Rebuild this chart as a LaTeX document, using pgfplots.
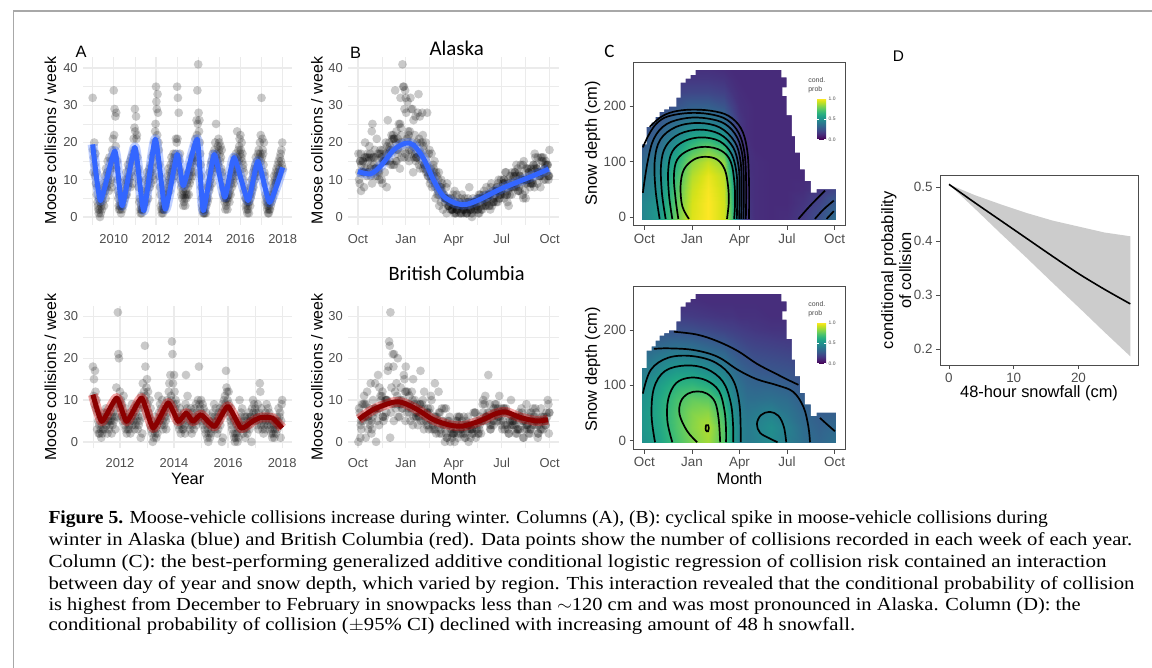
\documentclass[border=0pt]{standalone}
\usepackage{fontspec}
\setmainfont{Liberation Sans}
\newfontfamily\capserif{Liberation Serif}
\newfontfamily\calib{Carlito}
\usepackage{graphicx}
\usepackage{pgfplots}
\pgfplotsset{compat=1.18}
\usepackage{pgfplotstable}

\definecolor{g92}{HTML}{EBEBEB}
\definecolor{g30}{HTML}{4D4D4D}
\definecolor{ggblue}{HTML}{3366FF}
\definecolor{ggred}{HTML}{8B0000}
\definecolor{framegray}{HTML}{A8A8A8}
\definecolor{bandgray}{HTML}{CCCCCC}

\pgfplotsset{
  mini/.style={scale only axis, anchor=south west, axis line style={draw=none}, clip marker paths=true,
    major tick length=0pt, minor tick length=0pt, grid=both,
    major grid style={draw=g92, line width=1.3pt}, minor grid style={draw=g92, line width=0.65pt},
    tick label style={font=\fontsize{13}{13}\selectfont, text=g30},
    xticklabel style={yshift=-6pt, text height=9.5pt, text depth=2.5pt}, yticklabel style={xshift=-2pt}},
  pts/.style={only marks, mark=*, mark size=4.4pt,
    mark options={line width=0pt, draw opacity=0, fill=black, fill opacity=0.21}},
  boxax/.style={scale only axis, anchor=south west, axis line style={draw=black!70, line width=0.9pt},
    tick style={draw=black!70, line width=0.9pt}, tick align=outside, major tick length=4pt, tick pos=left,
    tick label style={font=\fontsize{13.5}{13.5}\selectfont, text=g30},
    xticklabel style={text height=9.7pt, text depth=2.6pt}},
  ctr/.style={black, line width=1.7pt, smooth, tension=0.6},
  heatax/.style={boxax, width=213pt, height=164pt, xmin=-0.69, xmax=12.69, ymin=-15.6, ymax=278.7,
    xtick={0,3,6,9,12}, xticklabels={Oct,Jan,Apr,Jul,Oct}, ytick={0,100,200}, yticklabels={0,100,200},
    colormap/viridis, point meta min=0, point meta max=1,
    colorbar, colorbar style={at={(parent axis.north west)}, anchor=north west, xshift=176pt, yshift=-36pt,
      width=9pt, height=41pt, ytick={0,0.5,1}, yticklabels={0.0,0.5,1.0}, yticklabel pos=right,
      yticklabel style={font=\fontsize{5}{5}\selectfont, text=g30, xshift=-1pt},
      axis line style={draw=none}, tick style={draw=white, line width=0.5pt}, tick align=inside, major tick length=2pt}},
}

% weekly moose collisions, Alaska, from week 1 of 2009
\pgfplotstableread[row sep=\\]{
n\\
32\\18\\12\\16\\20\\14\\11\\17\\9\\12\\6\\8\\4\\3\\2\\1\\5\\2\\0\\4\\1\\3\\5\\2\\7\\4\\6\\9\\3\\8\\11\\7\\5\\13\\9\\8\\12\\15\\10\\11\\7\\16\\12\\9\\13\\10\\15\\8\\18\\14\\21\\16\\
34\\22\\29\\16\\27\\19\\28\\13\\15\\10\\7\\5\\3\\2\\6\\3\\2\\4\\1\\3\\5\\2\\3\\6\\4\\8\\7\\5\\10\\6\\9\\12\\6\\10\\8\\14\\9\\11\\13\\10\\15\\8\\12\\16\\11\\14\\9\\17\\15\\21\\18\\24\\
29\\23\\17\\27\\21\\22\\16\\12\\13\\8\\10\\4\\5\\2\\1\\3\\2\\1\\2\\4\\2\\3\\5\\3\\7\\4\\6\\10\\4\\8\\12\\7\\9\\5\\11\\10\\13\\8\\12\\14\\9\\12\\16\\11\\13\\17\\10\\15\\20\\18\\23\\25\\
35\\31\\29\\22\\33\\28\\20\\18\\14\\11\\8\\6\\3\\2\\1\\4\\2\\1\\3\\2\\5\\2\\4\\6\\3\\7\\5\\9\\6\\11\\8\\13\\10\\7\\12\\9\\14\\11\\16\\12\\10\\15\\13\\17\\14\\11\\16\\12\\17\\21\\15\\20\\
35\\21\\32\\16\\28\\15\\13\\17\\10\\12\\8\\6\\9\\5\\7\\3\\6\\4\\8\\5\\3\\6\\7\\5\\9\\6\\10\\8\\12\\6\\11\\9\\14\\10\\13\\12\\16\\11\\15\\14\\17\\12\\16\\19\\16\\21\\18\\15\\26\\22\\34\\25\\
41\\28\\23\\26\\20\\17\\14\\11\\8\\5\\3\\2\\1\\2\\1\\3\\1\\2\\4\\1\\3\\5\\6\\4\\8\\5\\9\\7\\12\\8\\10\\14\\11\\15\\9\\13\\17\\12\\16\\15\\18\\14\\20\\16\\25\\13\\17\\15\\19\\14\\21\\18\\
20\\17\\15\\19\\16\\13\\18\\12\\11\\8\\6\\9\\5\\4\\6\\2\\5\\3\\5\\4\\2\\6\\5\\8\\6\\4\\7\\10\\6\\9\\12\\8\\11\\14\\10\\9\\13\\16\\12\\14\\11\\17\\13\\15\\23\\16\\12\\18\\15\\19\\21\\17\\
22\\18\\16\\20\\15\\17\\13\\14\\10\\12\\7\\8\\5\\3\\5\\2\\4\\1\\3\\2\\4\\1\\4\\6\\3\\5\\8\\6\\10\\7\\9\\12\\8\\11\\13\\10\\14\\12\\16\\13\\11\\15\\12\\17\\14\\18\\13\\16\\20\\17\\22\\15\\
32\\16\\21\\18\\17\\14\\20\\12\\9\\11\\6\\4\\5\\3\\2\\4\\1\\3\\1\\2\\4\\2\\5\\3\\6\\4\\7\\5\\9\\6\\8\\11\\7\\10\\9\\12\\9\\13\\11\\10\\14\\12\\15\\11\\13\\16\\12\\17\\15\\18\\14\\20\\
13\\
}\akdata

% weekly moose collisions, British Columbia, from week 1 of 2011
\pgfplotstableread[row sep=\\]{
n\\
18\\11\\15\\9\\17\\12\\8\\10\\3\\7\\5\\2\\4\\2\\6\\3\\1\\4\\2\\5\\3\\7\\6\\3\\5\\8\\4\\7\\2\\5\\6\\3\\5\\4\\7\\5\\2\\6\\4\\7\\5\\9\\6\\3\\8\\13\\6\\10\\31\\21\\20\\9\\
12\\8\\10\\6\\9\\5\\7\\11\\6\\4\\8\\3\\5\\2\\5\\3\\6\\4\\3\\7\\2\\5\\6\\9\\4\\7\\5\\8\\3\\6\\4\\7\\5\\9\\3\\6\\4\\8\\5\\9\\1\\11\\6\\2\\14\\8\\12\\10\\23\\18\\11\\13\\
15\\9\\12\\7\\6\\10\\4\\8\\3\\5\\2\\0\\4\\1\\3\\6\\2\\3\\1\\4\\2\\5\\11\\7\\5\\9\\6\\8\\4\\10\\5\\3\\7\\4\\6\\8\\5\\3\\6\\10\\7\\9\\12\\14\\8\\16\\11\\10\\24\\21\\14\\9\\
16\\12\\8\\10\\6\\9\\5\\7\\4\\6\\3\\8\\5\\2\\4\\6\\3\\5\\3\\7\\4\\2\\9\\16\\6\\8\\11\\5\\7\\4\\6\\3\\8\\5\\2\\4\\7\\5\\3\\6\\8\\5\\9\\4\\7\\5\\10\\6\\18\\9\\8\\6\\
10\\7\\5\\9\\4\\8\\6\\3\\5\\2\\7\\4\\1\\3\\0\\2\\5\\1\\4\\2\\3\\6\\5\\7\\4\\9\\6\\3\\8\\5\\4\\2\\6\\3\\7\\5\\8\\4\\6\\7\\0\\9\\1\\8\\10\\7\\11\\9\\17\\13\\12\\10\\
8\\12\\9\\6\\7\\5\\8\\4\\3\\6\\2\\5\\1\\0\\2\\1\\4\\2\\0\\3\\1\\4\\10\\5\\3\\7\\6\\8\\4\\2\\5\\3\\6\\1\\4\\3\\6\\2\\5\\4\\7\\3\\6\\5\\6\\0\\8\\5\\10\\7\\9\\6\\
8\\5\\7\\4\\6\\9\\3\\7\\5\\14\\12\\4\\8\\6\\3\\5\\2\\4\\6\\3\\7\\5\\9\\6\\4\\8\\5\\7\\3\\6\\4\\2\\5\\1\\3\\2\\4\\1\\3\\5\\2\\4\\6\\3\\5\\8\\4\\6\\7\\1\\5\\9\\
10\\
}\bcdata

% conditional probability grids (a = Alaska, b = British Columbia); month since Oct, depth (cm)
\pgfplotstableread[row sep=\\]{
m d a b\\
-0.13 -4 0.45 0.50\\1 -4 0.55 0.58\\2 -4 0.78 0.70\\3 -4 0.95 0.80\\4 -4 1 0.86\\5 -4 0.93 0.72\\5.5 -4 0.70 0.55\\6 -4 0.32 0.45\\6.5 -4 0.17 0.41\\7 -4 0.13 0.43\\8 -4 0.12 0.48\\9 -4 0.13 0.42\\10 -4 0.17 0.36\\11 -4 0.24 0.33\\12.06 -4 0.36 0.37\\
-0.13 25 0.45 0.52\\1 25 0.53 0.60\\2 25 0.75 0.72\\3 25 0.94 0.82\\4 25 1 0.88\\5 25 0.93 0.73\\5.5 25 0.68 0.55\\6 25 0.30 0.45\\6.5 25 0.16 0.41\\7 25 0.13 0.44\\8 25 0.12 0.49\\9 25 0.12 0.43\\10 25 0.15 0.35\\11 25 0.20 0.31\\12.06 25 0.29 0.34\\
-0.13 50 0.41 0.52\\1 50 0.50 0.61\\2 50 0.72 0.72\\3 50 0.92 0.81\\4 50 0.99 0.83\\5 50 0.92 0.69\\5.5 50 0.65 0.52\\6 50 0.28 0.43\\6.5 50 0.15 0.39\\7 50 0.13 0.41\\8 50 0.12 0.44\\9 50 0.12 0.39\\10 50 0.13 0.33\\11 50 0.16 0.29\\12.06 50 0.21 0.30\\
-0.13 75 0.37 0.50\\1 75 0.47 0.60\\2 75 0.68 0.70\\3 75 0.89 0.76\\4 75 0.97 0.75\\5 75 0.90 0.62\\5.5 75 0.60 0.48\\6 75 0.26 0.40\\6.5 75 0.15 0.36\\7 75 0.13 0.36\\8 75 0.12 0.37\\9 75 0.12 0.35\\10 75 0.12 0.30\\11 75 0.13 0.27\\12.06 75 0.16 0.27\\
-0.13 100 0.33 0.46\\1 100 0.43 0.56\\2 100 0.62 0.64\\3 100 0.83 0.66\\4 100 0.91 0.62\\5 100 0.83 0.53\\5.5 100 0.52 0.43\\6 100 0.23 0.37\\6.5 100 0.14 0.33\\7 100 0.13 0.32\\8 100 0.12 0.32\\9 100 0.12 0.30\\10 100 0.12 0.27\\11 100 0.12 0.24\\12.06 100 0.13 0.24\\
-0.13 125 0.29 0.41\\1 125 0.37 0.49\\2 125 0.53 0.55\\3 125 0.70 0.55\\4 125 0.78 0.50\\5 125 0.68 0.44\\5.5 125 0.42 0.37\\6 125 0.20 0.33\\6.5 125 0.14 0.30\\7 125 0.12 0.28\\8 125 0.12 0.27\\9 125 0.12 0.26\\10 125 0.12 0.24\\11 125 0.12 0.22\\12.06 125 0.12 0.22\\
-0.13 150 0.25 0.36\\1 150 0.32 0.42\\2 150 0.43 0.45\\3 150 0.55 0.44\\4 150 0.58 0.40\\5 150 0.50 0.36\\5.5 150 0.32 0.31\\6 150 0.18 0.28\\6.5 150 0.13 0.26\\7 150 0.12 0.24\\8 150 0.12 0.23\\9 150 0.12 0.22\\10 150 0.12 0.21\\11 150 0.12 0.20\\12.06 150 0.12 0.20\\
-0.13 175 0.22 0.29\\1 175 0.27 0.33\\2 175 0.34 0.35\\3 175 0.41 0.34\\4 175 0.42 0.31\\5 175 0.36 0.28\\5.5 175 0.24 0.25\\6 175 0.16 0.23\\6.5 175 0.13 0.21\\7 175 0.12 0.20\\8 175 0.12 0.19\\9 175 0.12 0.18\\10 175 0.12 0.17\\11 175 0.12 0.17\\12.06 175 0.12 0.17\\
-0.13 200 0.19 0.23\\1 200 0.22 0.25\\2 200 0.26 0.25\\3 200 0.30 0.24\\4 200 0.30 0.22\\5 200 0.26 0.20\\5.5 200 0.19 0.19\\6 200 0.14 0.18\\6.5 200 0.13 0.17\\7 200 0.12 0.16\\8 200 0.12 0.15\\9 200 0.12 0.15\\10 200 0.12 0.15\\11 200 0.12 0.15\\12.06 200 0.12 0.15\\
-0.13 225 0.16 0.18\\1 225 0.18 0.18\\2 225 0.20 0.18\\3 225 0.21 0.17\\4 225 0.21 0.16\\5 225 0.19 0.15\\5.5 225 0.15 0.15\\6 225 0.13 0.14\\6.5 225 0.12 0.14\\7 225 0.12 0.14\\8 225 0.12 0.13\\9 225 0.12 0.13\\10 225 0.12 0.13\\11 225 0.12 0.13\\12.06 225 0.12 0.13\\
-0.13 250 0.14 0.15\\1 250 0.15 0.15\\2 250 0.16 0.14\\3 250 0.16 0.14\\4 250 0.16 0.13\\5 250 0.15 0.13\\5.5 250 0.13 0.13\\6 250 0.12 0.13\\6.5 250 0.12 0.13\\7 250 0.12 0.13\\8 250 0.12 0.13\\9 250 0.12 0.13\\10 250 0.12 0.13\\11 250 0.12 0.13\\12.06 250 0.12 0.13\\
-0.13 265.5 0.13 0.14\\1 265.5 0.14 0.14\\2 265.5 0.14 0.13\\3 265.5 0.14 0.13\\4 265.5 0.14 0.13\\5 265.5 0.13 0.13\\5.5 265.5 0.12 0.13\\6 265.5 0.12 0.13\\6.5 265.5 0.12 0.13\\7 265.5 0.12 0.13\\8 265.5 0.12 0.13\\9 265.5 0.12 0.13\\10 265.5 0.12 0.13\\11 265.5 0.12 0.13\\12.06 265.5 0.12 0.13\\
}\heat

\newcommand\capfont{\fontsize{18.5}{21}\selectfont\capserif}
\newcommand\lineII{winter in Alaska (blue) and British Columbia (red). Data points show the number of collisions recorded in each week of each year.}
\newsavebox\capbox
\newlength\capl

\begin{document}
\sbox\capbox{\capfont\lineII}\setlength\capl{\wd\capbox}
\pgfmathsetmacro\capsx{1089/\capl}
\begin{tikzpicture}[x=1pt,y=1pt]
\path[use as bounding box] (0,0) rectangle (1152,671);
\draw[framegray, line width=1.6pt] (8,0) -- (8,660) -- (1152,660);

% ---------- A, Alaska ----------
\begin{axis}[mini, at={(78pt,445.3pt)}, width=210pt, height=168.7pt,
  xmin=2008.55, xmax=2018.45, ymin=-2.05, ymax=43.05,
  xtick={2010,2012,2014,2016,2018}, xticklabels={2010,2012,2014,2016,2018},
  minor xtick={2009,2011,2013,2015,2017},
  ytick={0,10,20,30,40}, yticklabels={0,10,20,30,40}, minor ytick={5,15,25,35}]
\addplot[pts] table[x expr={2009+\coordindex/52}, y=n] {\akdata};
\addplot[ggblue, line width=10pt, opacity=0.3, line join=round, smooth, tension=0.3] coordinates {
 (2009.0,19.5)(2009.37,4.4)(2010.05,17.7)(2010.4,3)(2011.0,18.7)(2011.42,1.7)(2011.97,20.9)(2012.44,2.1)
 (2013.0,16.8)(2013.3,8.4)(2013.95,20.9)(2014.24,1.7)(2014.76,16.8)(2015.26,5.3)(2015.7,16)(2016.36,4.4)
 (2016.83,15)(2017.38,3.9)(2018.0,13.3)};
\addplot[ggblue, line width=5pt, line join=round, smooth, tension=0.3] coordinates {
 (2009.0,19.5)(2009.37,4.4)(2010.05,17.7)(2010.4,3)(2011.0,18.7)(2011.42,1.7)(2011.97,20.9)(2012.44,2.1)
 (2013.0,16.8)(2013.3,8.4)(2013.95,20.9)(2014.24,1.7)(2014.76,16.8)(2015.26,5.3)(2015.7,16)(2016.36,4.4)
 (2016.83,15)(2017.38,3.9)(2018.0,13.3)};
\end{axis}

% ---------- B, Alaska ----------
\begin{axis}[mini, at={(344.4pt,445.3pt)}, width=211.9pt, height=168.7pt,
  xmin=-0.6, xmax=12.6, ymin=-2.05, ymax=43.05,
  xtick={0,3,6,9,12}, xticklabels={Oct,Jan,Apr,Jul,Oct}, minor xtick={1.5,4.5,7.5,10.5},
  ytick={0,10,20,30,40}, yticklabels={0,10,20,30,40}, minor ytick={5,15,25,35}]
\addplot[pts] table[x expr={12*mod(\coordindex/52.18+0.25,1)}, y=n] {\akdata};
\addplot[ggblue, line width=10pt, opacity=0.3, smooth] coordinates {
 (0,12.2)(0.79,11.6)(1.41,13.6)(2.24,18)(2.97,19.8)(3.49,19.3)(4.1,15.8)(4.73,10)(5.35,5.6)(6.18,3.6)
 (6.8,3.4)(7.63,4.7)(8.88,7.4)(10.12,9.6)(11.16,11.4)(11.95,12.9)};
\addplot[ggblue, line width=5pt, smooth] coordinates {
 (0,12.2)(0.79,11.6)(1.41,13.6)(2.24,18)(2.97,19.8)(3.49,19.3)(4.1,15.8)(4.73,10)(5.35,5.6)(6.18,3.6)
 (6.8,3.4)(7.63,4.7)(8.88,7.4)(10.12,9.6)(11.16,11.4)(11.95,12.9)};
\end{axis}

% ---------- A, British Columbia ----------
\begin{axis}[mini, at={(78.3pt,220.5pt)}, width=209.2pt, height=143.2pt,
  xmin=2010.65, xmax=2018.35, ymin=-1.55, ymax=32.55,
  xtick={2012,2014,2016,2018}, xticklabels={2012,2014,2016,2018}, minor xtick={2011,2013,2015,2017},
  ytick={0,10,20,30}, yticklabels={0,10,20,30}, minor ytick={5,15,25}]
\addplot[pts] table[x expr={2011+\coordindex/52}, y=n] {\bcdata};
\addplot[red!85!black, line width=10pt, opacity=0.35, line join=round, smooth, tension=0.3] coordinates {
 (2011.0,11.3)(2011.33,4.9)(2011.88,10.5)(2012.25,4.9)(2012.8,10.5)(2013.23,3.3)(2013.78,9.3)(2014.15,4.9)
 (2014.45,6.9)(2014.7,4.9)(2015.0,6.5)(2015.5,3.7)(2015.99,8.5)(2016.48,3.3)(2016.9,4.9)(2017.2,5.8)
 (2017.64,5.7)(2018.0,3.3)};
\addplot[ggred, line width=5pt, line join=round, smooth, tension=0.3] coordinates {
 (2011.0,11.3)(2011.33,4.9)(2011.88,10.5)(2012.25,4.9)(2012.8,10.5)(2013.23,3.3)(2013.78,9.3)(2014.15,4.9)
 (2014.45,6.9)(2014.7,4.9)(2015.0,6.5)(2015.5,3.7)(2015.99,8.5)(2016.48,3.3)(2016.9,4.9)(2017.2,5.8)
 (2017.64,5.7)(2018.0,3.3)};
\end{axis}

% ---------- B, British Columbia ----------
\begin{axis}[mini, at={(344.4pt,220.5pt)}, width=211.9pt, height=143.2pt,
  xmin=-0.6, xmax=12.6, ymin=-1.55, ymax=32.55,
  xtick={0,3,6,9,12}, xticklabels={Oct,Jan,Apr,Jul,Oct}, minor xtick={1.5,4.5,7.5,10.5},
  ytick={0,10,20,30}, yticklabels={0,10,20,30}, minor ytick={5,15,25}]
\addplot[pts] table[x expr={12*mod(\coordindex/52.18+0.25,1)}, y=n] {\bcdata};
\addplot[red!85!black, line width=10pt, opacity=0.35, smooth] coordinates {
 (0.06,5.4)(1.0,7.8)(2.24,9.5)(2.86,9.3)(3.69,7.8)(4.73,5.3)(5.77,4.0)(6.6,3.8)(7.63,5.0)(8.67,6.8)
 (9.3,7.1)(10.12,5.9)(11.16,5.0)(11.9,5.3)};
\addplot[ggred, line width=5pt, smooth] coordinates {
 (0.06,5.4)(1.0,7.8)(2.24,9.5)(2.86,9.3)(3.69,7.8)(4.73,5.3)(5.77,4.0)(6.6,3.8)(7.63,5.0)(8.67,6.8)
 (9.3,7.1)(10.12,5.9)(11.16,5.0)(11.9,5.3)};
\end{axis}

% ---------- C, Alaska ----------
\begin{axis}[heatax, at={(631pt,444pt)}]
\addplot[surf, shader=interp, mesh/cols=15, point meta=\thisrow{a}] table[x=m, y=d] {\heat};
\addplot[fill=white, draw=none] coordinates {(-0.3,131.5)(0.13,131.5)(0.13,163)(0.46,163)(0.46,170.6)(0.71,170.6)(0.71,181)(0.96,181)(0.96,190)(1.24,190)(1.24,194.6)(1.55,194.6)(1.55,199.4)(2.01,199.4)(2.01,215.6)(2.28,215.6)(2.28,242.6)(2.6,242.6)(2.6,250)(2.91,250)(2.91,256.5)(3.23,256.5)(3.23,272)(-0.3,272)} --cycle;
\addplot[fill=white, draw=none] coordinates {(8.64,272)(8.64,252)(8.98,252)(8.98,234)(8.7,234)(8.7,219)(8.98,219)(8.98,184)(9.3,184)(9.3,146.5)(9.51,146.5)(9.51,116.5)(9.82,116.5)(9.82,86.5)(10.13,86.5)(10.13,65.5)(10.51,65.5)(10.51,44.5)(10.87,44.5)(10.87,50.5)(12.3,50.5)(12.3,272)} --cycle;
\addplot[ctr] coordinates {(2.81,-3)(2.39,20)(2.28,56)(2.49,86)(3.12,104)(3.85,109)(4.59,104)(5.07,86)(5.28,56)(5.32,26)(5.21,-3)};
\addplot[ctr] coordinates {(2.14,-3)(1.97,32)(1.86,74)(2.07,104)(2.81,121)(3.85,127)(4.85,120)(5.45,100)(5.68,62)(5.72,26)(5.66,-3)};
\addplot[ctr] coordinates {(1.76,-3)(1.55,40)(1.5,85)(1.75,118)(2.5,137)(3.6,144)(4.75,137)(5.5,114)(5.82,78)(5.86,38)(5.83,-3)};
\addplot[ctr] coordinates {(1.34,-3)(1.1,45)(1.05,95)(1.35,128)(2.2,150)(3.5,158)(4.75,150)(5.6,126)(5.95,90)(6.0,45)(5.98,-3)};
\addplot[ctr] coordinates {(0.96,-3)(0.7,50)(0.65,102)(1.0,140)(2.0,163)(3.4,170)(4.75,162)(5.7,136)(6.07,100)(6.13,50)(6.11,-3)};
\addplot[ctr] coordinates {(-0.1,44)(0.2,100)(0.6,142)(1.4,168)(2.7,179)(4.0,178)(5.1,168)(5.85,144)(6.2,108)(6.27,55)(6.25,-3)};
\addplot[ctr] coordinates {(-0.1,126)(0.3,150)(0.8,170)(1.5,182)(2.8,188)(4.1,186)(5.2,176)(5.95,152)(6.32,115)(6.42,60)(6.4,-3)};
\addplot[ctr] coordinates {(0.34,163)(1.0,180)(1.8,190)(2.9,194)(4.2,192)(5.3,183)(6.1,160)(6.48,122)(6.6,65)(6.6,-3)};
\addplot[ctr] coordinates {(9.72,-3)(10.5,22)(11.4,48)};
\addplot[ctr] coordinates {(10.76,-3)(11.3,14)(11.95,30)};
\addplot[ctr] coordinates {(11.5,-3)(11.95,11)};
\end{axis}

% ---------- C, British Columbia ----------
\begin{axis}[heatax, at={(631pt,219.3pt)}, height=163.4pt, ymin=-16.2, ymax=278.2]
\addplot[surf, shader=interp, mesh/cols=15, point meta=\thisrow{b}] table[x=m, y=d] {\heat};
\addplot[fill=white, draw=none] coordinates {(-0.3,131.5)(0.13,131.5)(0.13,163)(0.46,163)(0.46,170.6)(0.71,170.6)(0.71,181)(0.96,181)(0.96,190)(1.24,190)(1.24,194.6)(1.55,194.6)(1.55,199.4)(2.01,199.4)(2.01,215.6)(2.28,215.6)(2.28,242.6)(2.6,242.6)(2.6,250)(2.91,250)(2.91,256.5)(3.23,256.5)(3.23,272)(-0.3,272)} --cycle;
\addplot[fill=white, draw=none] coordinates {(8.64,272)(8.64,252)(8.98,252)(8.98,234)(8.7,234)(8.7,219)(8.98,219)(8.98,184)(9.3,184)(9.3,146.5)(9.51,146.5)(9.51,116.5)(9.82,116.5)(9.82,86.5)(10.13,86.5)(10.13,65.5)(10.51,65.5)(10.51,44.5)(10.87,44.5)(10.87,50.5)(12.3,50.5)(12.3,272)} --cycle;
\addplot[ctr] coordinates {(3.9,17)(4.02,17)(4.06,22)(4.02,28)(3.9,28)(3.86,22)(3.9,17)};
\addplot[ctr] coordinates {(3.33,-3)(2.7,17)(2.22,47)(2.3,71)(2.75,85)(3.35,89)(3.95,85)(4.45,70)(4.68,40)(4.78,-3)};
\addplot[ctr] coordinates {(1.76,-3)(1.45,35)(1.5,75)(2.0,104)(2.9,114)(3.9,109)(4.7,90)(5.05,55)(5.15,20)(5.15,-3)};
\addplot[ctr] coordinates {(0.67,-3)(0.45,45)(0.6,95)(1.3,126)(2.6,136)(3.9,130)(4.95,107)(5.45,68)(5.6,25)(5.6,-3)};
\addplot[ctr] coordinates {(-0.1,85)(0.4,128)(1.5,150)(3.0,153)(4.5,141)(5.55,112)(6.0,65)(6.08,-3)};
\addplot[ctr] coordinates {(0.6,166)(1.5,167)(3.1,164)(4.6,152)(5.9,128)(7.1,111)(8.4,100)(9.4,88)(10.05,60)(10.35,25)(10.45,-3)};
\addplot[ctr] coordinates {(1.86,197)(3.3,192)(4.6,180)(5.9,162)(7.1,139)(8.3,121)(9.2,108)(9.72,101)};
\addplot[ctr] coordinates {(8.95,-3)(8.8,25)(8.45,45)(7.9,52)(7.35,46)(7.1,30)(7.3,14)(7.9,4)(8.4,-3)};
\addplot[ctr] coordinates {(11.08,41)(11.5,30)(12.02,17)};
\end{axis}

% ---------- D ----------
\begin{axis}[boxax, at={(939pt,304pt)}, width=199pt, height=191pt,
  xmin=-1.38, xmax=29.2, ymin=0.1706, ymax=0.522,
  xtick={0,10,20}, xticklabels={0,10,20}, ytick={0.2,0.3,0.4,0.5}, yticklabels={0.2,0.3,0.4,0.5}]
\addplot[fill=bandgray, draw=none] coordinates {
 (0,0.505)(4,0.485)(8,0.468)(12,0.452)(16,0.438)(20,0.427)(24,0.416)(28,0.409)
 (28,0.187)(24,0.232)(20,0.278)(16,0.323)(12,0.369)(8,0.414)(4,0.460)(0,0.505)} --cycle;
\addplot[black, line width=1.6pt, smooth] coordinates {
 (0,0.505)(4,0.471)(8,0.438)(12,0.405)(16,0.372)(20,0.340)(24,0.311)(28,0.284)};
\end{axis}

% ---------- titles and labels ----------
\node[font=\fontsize{16.5}{16.5}\selectfont] at (76,619) {A};
\node[font=\fontsize{16.5}{16.5}\selectfont] at (351.7,618.3) {B};
\node[font=\calib\fontsize{19}{19}\selectfont] at (606.7,619.3) {C};
\node[font=\fontsize{15.5}{15.5}\selectfont] at (897.3,614.3) {D};
\node[font=\calib\fontsize{21}{21}\selectfont] at (453.3,622.7) {Alaska};
\node[font=\calib\fontsize{20.5}{20.5}\selectfont] at (453.3,396) {British Columbia};

\foreach \xx in {45,313}{
  \node[rotate=90, font=\fontsize{16}{16}\selectfont] at (\xx,529.7) {Moose collisions / week};
  \node[rotate=90, font=\fontsize{16}{16}\selectfont] at (\xx,292.1) {Moose collisions / week};
}
\node[rotate=90, font=\fontsize{16.5}{16.5}\selectfont] at (590,527) {Snow depth (cm)};
\node[rotate=90, font=\fontsize{16.5}{16.5}\selectfont] at (590,300) {Snow depth (cm)};
\node[rotate=90, align=center, font=\fontsize{16.5}{18.3}\selectfont] at (895,399.5) {conditional probability\\of collision};
\node[font=\fontsize{16.5}{16.5}\selectfont] at (183,190) {Year};
\node[font=\fontsize{16.5}{16.5}\selectfont] at (450.3,190) {Month};
\node[font=\fontsize{16.5}{16.5}\selectfont] at (737.5,190) {Month};
\node[font=\fontsize{16.5}{16.5}\selectfont] at (1038.5,276) {48-hour snowfall (cm)};
\node[anchor=north west, align=left, inner sep=0pt, text=g30, font=\fontsize{7}{8.5}\selectfont] at (806.5,593) {cond.\\prob};
\node[anchor=north west, align=left, inner sep=0pt, text=g30, font=\fontsize{7}{8.5}\selectfont] at (806.5,368) {cond.\\prob};

% ---------- caption ----------
\node[anchor=base west, inner sep=0pt] at (43,145) {\resizebox{1004pt}{\height}{\capfont\textbf{Figure 5.} Moose-vehicle collisions increase during winter. Columns (A), (B): cyclical spike in moose-vehicle collisions during}};
\node[anchor=base west, inner sep=0pt] at (43,123) {\resizebox{1089pt}{\height}{\capfont\lineII}};
\node[anchor=base west, inner sep=0pt] at (43,101) {\resizebox{1063pt}{\height}{\capfont Column (C): the best-performing generalized additive conditional logistic regression of collision risk contained an interaction}};
\node[anchor=base west, inner sep=0pt] at (43,79) {\resizebox{1091pt}{\height}{\capfont between day of year and snow depth, which varied by region. This interaction revealed that the conditional probability of collision}};
\node[anchor=base west, inner sep=0pt] at (43,58) {\resizebox{1037pt}{\height}{\capfont is highest from December to February in snowpacks less than $\sim$120 cm and was most pronounced in Alaska. Column (D): the}};
\node[anchor=base west, inner sep=0pt] at (43,37) {\scalebox{\capsx}[1]{\capfont conditional probability of collision ($\pm$95\% CI) declined with increasing amount of 48 h snowfall.}};
\end{tikzpicture}
\end{document}
